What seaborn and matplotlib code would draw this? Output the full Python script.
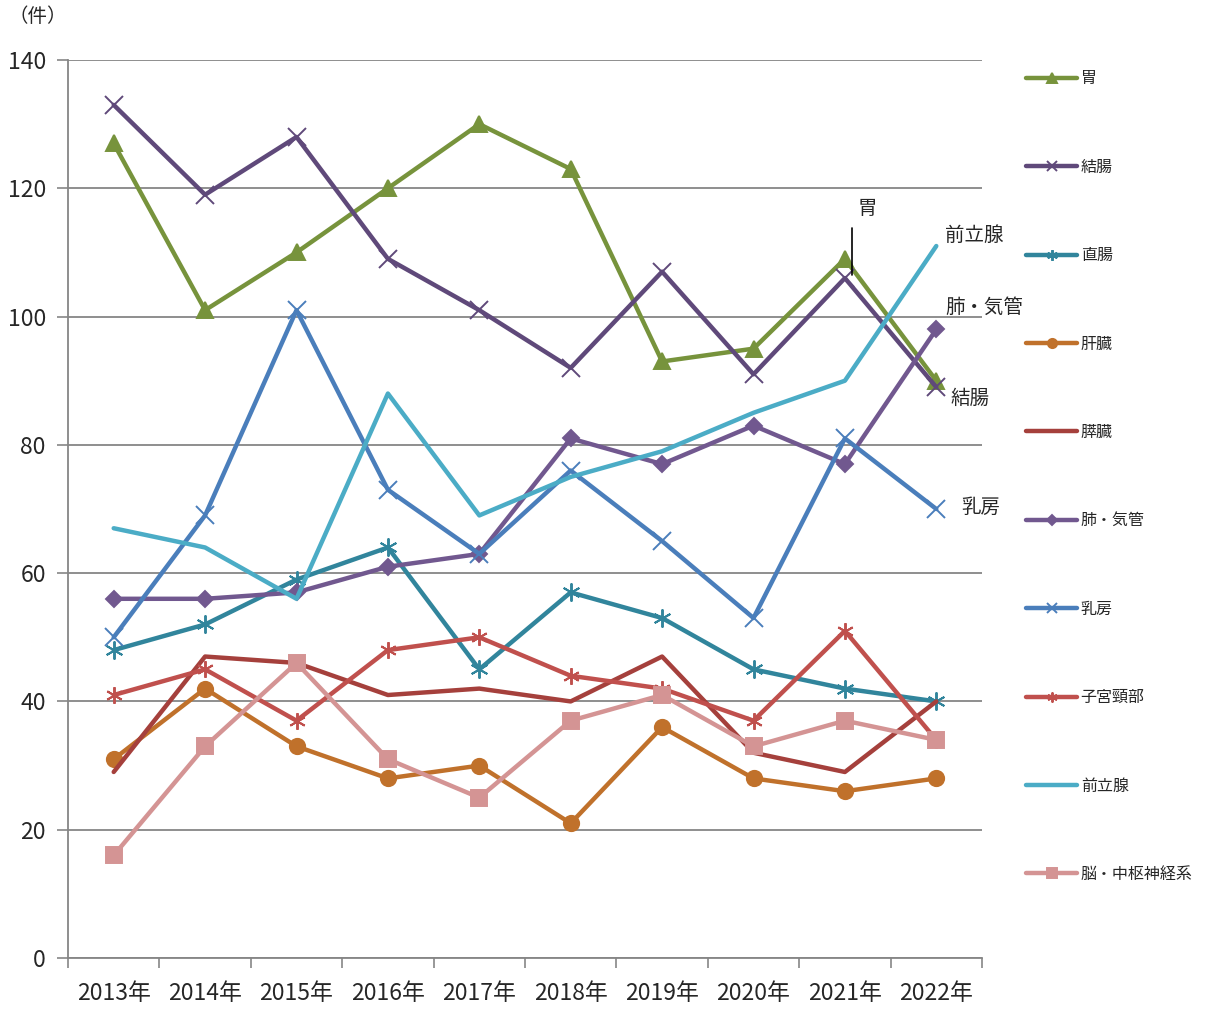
import matplotlib
matplotlib.use("Agg")
import matplotlib.pyplot as plt
import seaborn as sns
import pandas as pd
import numpy as np

years = ["2013年", "2014年", "2015年", "2016年", "2017年", "2018年", "2019年", "2020年", "2021年", "2022年"]

stomach = [127, 101, 110, 120, 130, 123, 93, 95, 109, 90]
colon = [133, 119, 128, 109, 101, 92, 107, 91, 106, 89]
rectum = [48, 52, 59, 64, 45, 57, 53, 45, 42, 40]
liver = [31, 42, 33, 28, 30, 21, 36, 28, 26, 28]
pancreas = [29, 47, 46, 41, 42, 40, 47, 32, 29, 40]
lung = [56, 56, 57, 61, 63, 81, 77, 83, 77, 98]
breast = [50, 69, 101, 73, 63, 76, 65, 53, 81, 70]
cervix = [41, 45, 37, 48, 50, 44, 42, 37, 51, 34]
prostate = [67, 64, 56, 88, 69, 75, 79, 85, 90, 111]
brain = [16, 33, 46, 31, 25, 37, 41, 33, 37, 34]

names = ["胃", "結腸", "直腸", "肝臓", "膵臓", "肺・気管", "乳房", "子宮頸部", "前立腺", "脳・中枢神経系"]
series = [stomach, colon, rectum, liver, pancreas, lung, breast, cervix, prostate, brain]
colors = ["#77933C", "#5F497A", "#31859C", "#C0712B", "#A5403C", "#71588F", "#4A7EBB", "#C0504D", "#4BACC6", "#D49494"]
markers = ["^", "x", (6, 2, 0), "o", None, "D", "x", (6, 2, 0), None, "s"]
msizes = [11, 13, 13, 11, 0, 8, 13, 12, 0, 11]

sns.set_theme(style="white")
plt.rcParams["font.family"] = ["Noto Sans CJK JP", "DejaVu Sans"]

fig = plt.figure(figsize=(12.08, 10.09), dpi=100)
ax = fig.add_axes([68 / 1208, 1 - 958 / 1009, (982 - 68) / 1208, (958 - 60) / 1009])

rows = []
for n, s in zip(names, series):
    for i, v in enumerate(s):
        rows.append({"site": n, "idx": i, "value": v})
df = pd.DataFrame(rows)

for n, c, m, ms in zip(names, colors, markers, msizes):
    sub = df[df["site"] == n]
    kw = dict(color=c, linewidth=3.2, label=n, legend=False)
    if m is not None:
        kw.update(marker=m, markersize=ms, markeredgecolor=c, markerfacecolor=c, markeredgewidth=1.4)
    sns.lineplot(data=sub, x="idx", y="value", ax=ax, **kw)

ax.set_xlim(-0.5, 9.5)
ax.set_ylim(0, 140)
ax.set_yticks(np.arange(0, 141, 20))
ax.set_xticks(range(len(years)))
ax.set_xticklabels(years, fontsize=16.5)
ax.set_xticks(np.arange(-0.5, 10, 1), minor=True)
ax.tick_params(axis="x", which="major", length=0, pad=17)
ax.tick_params(axis="x", which="minor", length=7, width=1.2, color="#868686", direction="out", bottom=True)
ax.tick_params(axis="y", which="major", length=8, width=1.2, color="#868686", direction="out", left=True, labelsize=16.5, pad=8)
ax.set_xlabel("")
ax.set_ylabel("")
ax.grid(axis="y", color="#868686", linewidth=1.3)
ax.grid(axis="x", visible=False)
ax.set_axisbelow(True)
for side in ["top", "right"]:
    ax.spines[side].set_visible(False)
for side in ["left", "bottom"]:
    ax.spines[side].set_color("#868686")
    ax.spines[side].set_linewidth(1.3)

fig.text(38 / 1208, 1 - 17 / 1009, "（件）", ha="center", va="center", fontsize=14)

ax.text(8.25, 116.9, "胃", ha="center", va="center", fontsize=14)
ax.plot([8.08, 8.08], [106.5, 113.8], color="black", linewidth=1.2)
ax.text(9.42, 112.6, "前立腺", ha="center", va="center", fontsize=14)
ax.text(9.53, 101.5, "肺・気管", ha="center", va="center", fontsize=14)
ax.text(9.37, 87.2, "結腸", ha="center", va="center", fontsize=14)
ax.text(9.49, 70.2, "乳房", ha="center", va="center", fontsize=14)

handles, labels = [], []
for line in ax.get_lines():
    if line.get_label() in names:
        handles.append(line)
        labels.append(line.get_label())
leg = fig.legend(handles, labels, loc="upper left", bbox_to_anchor=(1012 / 1208, 1 - 56 / 1009),
                 frameon=False, fontsize=11.5, labelspacing=4.47, handlelength=3.2, handletextpad=0.2,
                 markerscale=0.6)

fig.savefig("out.png", dpi=100)
